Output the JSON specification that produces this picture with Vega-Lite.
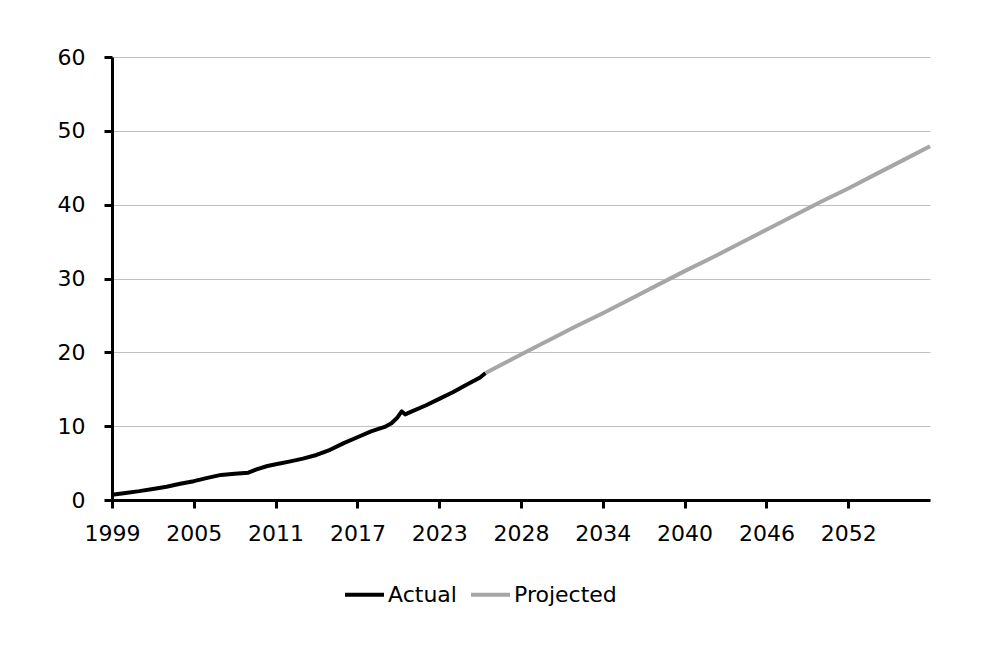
{
  "$schema": "https://vega.github.io/schema/vega-lite/v6.json",
  "autosize": "none",
  "width": 818,
  "height": 443,
  "padding": {"left": 112, "top": 57, "right": 72, "bottom": 166},
  "background": "white",
  "config": {
    "view": {"stroke": null},
    "font": "DejaVu Sans",
    "axis": {
      "labelFont": "DejaVu Sans",
      "labelFontSize": 22,
      "labelColor": "#000000",
      "domainColor": "#000000",
      "domainWidth": 3,
      "tickColor": "#000000",
      "tickWidth": 3,
      "tickSize": 8,
      "gridColor": "#c0c0c0",
      "gridWidth": 1,
      "title": null
    }
  },
  "data": {
    "values": [
      {"t": 0, "v": 0.7, "series": "Actual"},
      {"t": 1, "v": 0.95, "series": "Actual"},
      {"t": 2, "v": 1.2, "series": "Actual"},
      {"t": 3, "v": 1.5, "series": "Actual"},
      {"t": 4, "v": 1.8, "series": "Actual"},
      {"t": 5, "v": 2.2, "series": "Actual"},
      {"t": 6, "v": 2.55, "series": "Actual"},
      {"t": 7, "v": 3.0, "series": "Actual"},
      {"t": 8, "v": 3.4, "series": "Actual"},
      {"t": 9, "v": 3.55, "series": "Actual"},
      {"t": 10, "v": 3.7, "series": "Actual"},
      {"t": 10.6, "v": 4.15, "series": "Actual"},
      {"t": 11.4, "v": 4.6, "series": "Actual"},
      {"t": 12.2, "v": 4.9, "series": "Actual"},
      {"t": 13, "v": 5.2, "series": "Actual"},
      {"t": 14, "v": 5.6, "series": "Actual"},
      {"t": 15, "v": 6.1, "series": "Actual"},
      {"t": 16, "v": 6.8, "series": "Actual"},
      {"t": 17, "v": 7.7, "series": "Actual"},
      {"t": 18, "v": 8.5, "series": "Actual"},
      {"t": 19, "v": 9.3, "series": "Actual"},
      {"t": 20, "v": 9.9, "series": "Actual"},
      {"t": 20.5, "v": 10.4, "series": "Actual"},
      {"t": 20.9, "v": 11.1, "series": "Actual"},
      {"t": 21.25, "v": 12.0, "series": "Actual"},
      {"t": 21.5, "v": 11.6, "series": "Actual"},
      {"t": 22, "v": 12.0, "series": "Actual"},
      {"t": 23, "v": 12.8, "series": "Actual"},
      {"t": 24, "v": 13.7, "series": "Actual"},
      {"t": 25, "v": 14.6, "series": "Actual"},
      {"t": 26, "v": 15.6, "series": "Actual"},
      {"t": 27, "v": 16.6, "series": "Actual"},
      {"t": 27.4, "v": 17.2, "series": "Actual"},
      {"t": 27.4, "v": 17.2, "series": "Projected"},
      {"t": 30, "v": 19.7, "series": "Projected"},
      {"t": 32, "v": 21.6, "series": "Projected"},
      {"t": 34, "v": 23.5, "series": "Projected"},
      {"t": 36, "v": 25.3, "series": "Projected"},
      {"t": 38, "v": 27.2, "series": "Projected"},
      {"t": 40, "v": 29.1, "series": "Projected"},
      {"t": 42, "v": 31.0, "series": "Projected"},
      {"t": 44, "v": 32.8, "series": "Projected"},
      {"t": 46, "v": 34.7, "series": "Projected"},
      {"t": 48, "v": 36.6, "series": "Projected"},
      {"t": 50, "v": 38.5, "series": "Projected"},
      {"t": 52, "v": 40.4, "series": "Projected"},
      {"t": 54, "v": 42.2, "series": "Projected"},
      {"t": 56, "v": 44.1, "series": "Projected"},
      {"t": 58, "v": 46.0, "series": "Projected"},
      {"t": 60, "v": 47.9, "series": "Projected"}
    ]
  },
  "mark": {"type": "line", "strokeWidth": 4, "strokeJoin": "round"},
  "encoding": {
    "x": {
      "field": "t",
      "type": "quantitative",
      "scale": {"domain": [0, 60], "nice": false, "zero": false},
      "axis": {
        "values": [0, 6, 12, 18, 24, 30, 36, 42, 48, 54],
        "labelExpr": "['1999','2005','2011','2017','2023','2028','2034','2040','2046','2052'][round(datum.value/6)]",
        "grid": false,
        "labelPadding": 15,
        "labelFlush": false
      }
    },
    "y": {
      "field": "v",
      "type": "quantitative",
      "scale": {"domain": [0, 60], "nice": false},
      "axis": {
        "values": [0, 10, 20, 30, 40, 50, 60],
        "grid": true,
        "labelPadding": 19,
        "labelFlush": false
      }
    },
    "color": {
      "field": "series",
      "type": "nominal",
      "scale": {"domain": ["Actual", "Projected"], "range": ["#000000", "#a6a6a6"]},
      "legend": {
        "title": null,
        "orient": "none",
        "legendX": 231,
        "legendY": 516,
        "direction": "horizontal",
        "symbolType": "stroke",
        "symbolSize": 1521,
        "symbolStrokeWidth": 4,
        "labelFontSize": 22,
        "labelFont": "DejaVu Sans",
        "labelColor": "#000000",
        "labelOffset": 2,
        "columnPadding": 6
      }
    }
  }
}
